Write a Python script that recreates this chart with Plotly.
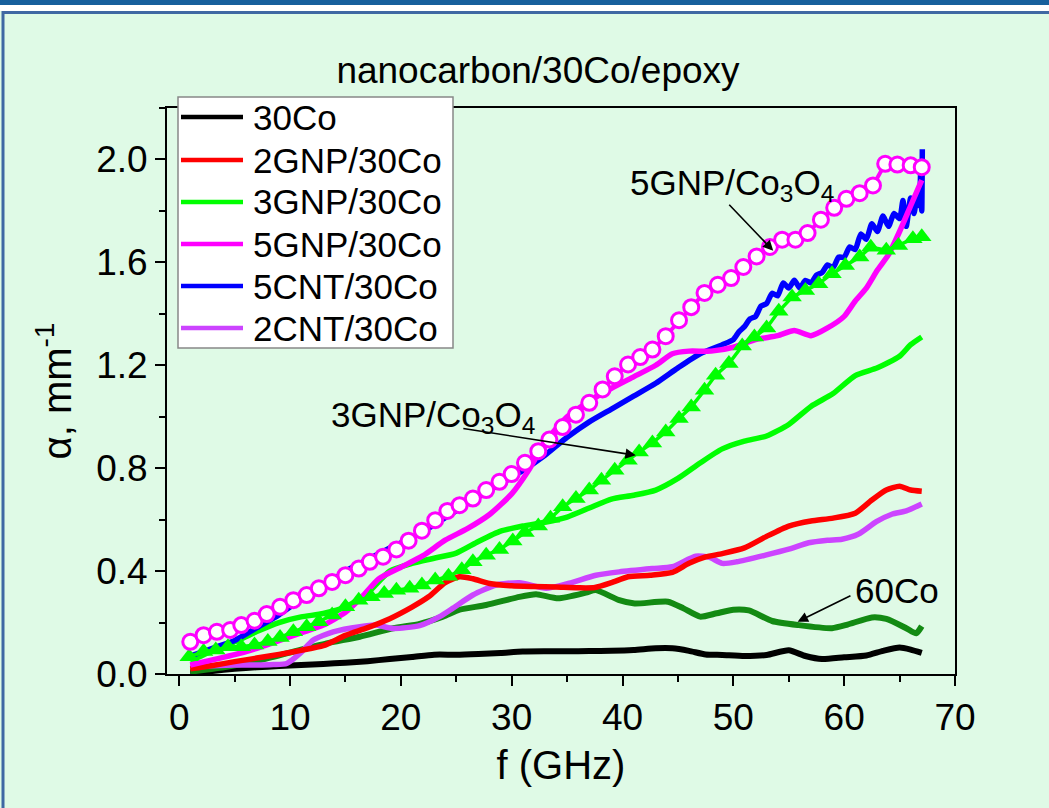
import plotly.graph_objects as go

# ---------------- data ----------------
co30_x = [1, 3, 5, 7, 9, 11, 13, 15, 17, 19, 21, 23, 25, 27, 29, 31, 33, 35, 37, 39, 41, 43, 44.5, 46, 47.5,
          49, 51, 53, 55, 56.5, 58, 60, 62, 63.5, 65, 66, 67]
co30_y = [0.003, 0.012, 0.02, 0.026, 0.031, 0.035, 0.039, 0.044, 0.05, 0.058, 0.066, 0.075, 0.075, 0.078, 0.082,
          0.087, 0.088, 0.088, 0.089, 0.09, 0.093, 0.1, 0.1, 0.09, 0.076, 0.074, 0.07, 0.074, 0.092, 0.07, 0.058,
          0.065, 0.072, 0.09, 0.103, 0.095, 0.082]

gnp2_x = [1, 3, 5, 7, 9, 11, 13, 15, 17, 19, 21, 22.5, 24, 25.3, 26.5, 28, 30, 32, 34, 36, 37.5, 39, 40.5, 42.5,
          44.5, 46, 47.5, 49, 51, 53, 55, 57, 59, 61, 62.5, 63.8, 65, 66, 67]
gnp2_y = [0.02, 0.033, 0.048, 0.062, 0.076, 0.092, 0.11, 0.15, 0.18, 0.215, 0.26, 0.3, 0.355, 0.378, 0.37, 0.352,
          0.343, 0.34, 0.338, 0.335, 0.336, 0.355, 0.378, 0.384, 0.395, 0.43, 0.455, 0.468, 0.49, 0.535, 0.575,
          0.595, 0.606, 0.625, 0.676, 0.715, 0.73, 0.715, 0.71]

gnp3_x = [1, 3, 5, 7, 9, 11, 13, 15, 17, 19, 21, 23, 25, 27, 29, 31, 33, 35, 37, 39, 41, 43, 45, 47, 49, 51, 53,
          55, 57, 59, 61, 63, 65, 66, 67]
gnp3_y = [0.05, 0.09, 0.125, 0.165, 0.2, 0.222, 0.235, 0.26, 0.315, 0.4, 0.43, 0.45, 0.47, 0.515, 0.555, 0.575,
          0.59, 0.61, 0.645, 0.68, 0.695, 0.715, 0.76, 0.82, 0.875, 0.905, 0.925, 0.97, 1.04, 1.09, 1.16, 1.19,
          1.235, 1.28, 1.31]

gnp5_x = [1, 3, 5, 7, 9, 11, 13, 15, 16.5, 18, 20, 22, 24, 26, 28, 30, 31.5, 33, 35, 37, 39, 41, 43, 44.5, 46,
          48, 50, 52, 54, 55.5, 57, 58.5, 60, 61, 62, 63, 64, 65, 66, 67]
gnp5_y = [0.035, 0.055, 0.075, 0.1, 0.13, 0.16, 0.19, 0.24, 0.3, 0.37, 0.415, 0.46, 0.52, 0.565, 0.62, 0.7, 0.79,
          0.9, 1.0, 1.06, 1.11, 1.155, 1.2, 1.245, 1.255, 1.255, 1.27, 1.3, 1.315, 1.335, 1.315, 1.345, 1.39,
          1.45, 1.5, 1.57, 1.63, 1.72, 1.82, 1.92]

cnt5_x = [1, 3, 5, 7, 9, 11, 13, 15, 17, 19, 21, 23, 25, 27, 29, 31, 33, 35, 37, 39, 41, 43, 45, 47, 49,
          50, 50.5, 51, 51.5, 52, 52.5, 53, 53.5, 54, 54.5, 55, 55.5, 56, 56.5, 57, 57.5, 58, 58.5, 59, 59.5,
          60, 60.5, 61, 61.5, 62, 62.5, 63, 63.5, 64, 64.5, 65, 65.3, 65.6, 66, 66.3, 66.6, 66.8, 66.9, 67.0, 67.05]
cnt5_y = [0.07, 0.1, 0.13, 0.18, 0.23, 0.29, 0.34, 0.4, 0.445, 0.49, 0.53, 0.58, 0.635, 0.69, 0.74, 0.79, 0.85,
          0.92, 0.98, 1.03, 1.08, 1.13, 1.19, 1.245, 1.28,
          1.30, 1.33, 1.35, 1.38, 1.39, 1.43, 1.44, 1.48, 1.47, 1.52, 1.50, 1.53, 1.50, 1.53, 1.52, 1.55, 1.56,
          1.59, 1.58, 1.62, 1.62, 1.66, 1.65, 1.71, 1.69, 1.75, 1.72, 1.78, 1.74, 1.79, 1.77, 1.84, 1.74, 1.85,
          1.79, 1.87, 1.82, 1.95, 1.80, 2.04]

cnt2_x = [1, 3, 5, 7, 8.5, 9.7, 10.9, 12.1, 13.9, 16.3, 17.8, 19.3, 21.7, 23.5, 24.7, 26.5, 28.6, 30.7, 33.1,
          35.2, 37.6, 39.7, 42.7, 44.5, 46.6, 47.8, 49, 50.3, 52.9, 55, 56.8, 58.5, 59.8, 61.3, 62.9, 64.3, 65.6, 67]
cnt2_y = [0.028, 0.032, 0.035, 0.035, 0.037, 0.041, 0.08, 0.132, 0.164, 0.184, 0.19, 0.177, 0.188, 0.223, 0.256,
          0.307, 0.346, 0.355, 0.333, 0.353, 0.384, 0.397, 0.41, 0.417, 0.458, 0.454, 0.43, 0.436, 0.462, 0.485,
          0.51, 0.52, 0.524, 0.544, 0.592, 0.621, 0.634, 0.661]

co60_x = [1, 4.3, 7.3, 10.3, 13.3, 16.3, 19.3, 21.7, 23.8, 25.3, 27.7, 30.7, 32.2, 34.2, 36.7, 37.6, 39.7, 41.1,
          44.1, 45.5, 47, 48.5, 50, 51.4, 53.5, 55.9, 58.9, 60.3, 62.5, 63.8, 65.6, 66.5, 67]
co60_y = [0.009, 0.028, 0.054, 0.087, 0.119, 0.145, 0.178, 0.195, 0.223, 0.25, 0.268, 0.3, 0.31, 0.294, 0.316,
          0.326, 0.287, 0.274, 0.281, 0.255, 0.223, 0.236, 0.25, 0.247, 0.206, 0.19, 0.178, 0.192, 0.22, 0.214,
          0.178, 0.158, 0.186]

gnp3co_x = [0.9, 2.2, 3.3, 4.4, 5.6, 6.8, 8.0, 9.1, 10.3, 11.5, 12.6, 13.8, 15.0, 16.2, 17.3, 18.5, 19.6, 20.8,
            21.9, 23.1, 24.3, 25.5, 26.5, 27.7, 28.9, 30.1, 31.2, 32.4, 33.5, 34.6, 35.8, 37.0, 38.1, 39.3, 40.5,
            41.5, 42.7, 43.9, 45.1, 46.2, 47.4, 48.4, 49.6, 50.8, 51.9, 53.0, 54.1, 55.3, 56.5, 57.7, 58.9, 60.1,
            61.4, 62.4, 63.8, 64.9, 66.2]
gnp3co_y = [0.067, 0.087, 0.093, 0.106, 0.106, 0.113, 0.126, 0.142, 0.164, 0.184, 0.203, 0.229, 0.261, 0.287,
            0.3, 0.313, 0.326, 0.333, 0.346, 0.365, 0.38, 0.405, 0.436, 0.462, 0.484, 0.517, 0.55, 0.575, 0.605,
            0.65, 0.682, 0.715, 0.753, 0.792, 0.831, 0.863, 0.898, 0.941, 0.993, 1.038, 1.103, 1.161, 1.207,
            1.275, 1.31, 1.345, 1.41, 1.465, 1.491, 1.517, 1.556, 1.588, 1.621, 1.659, 1.647, 1.666, 1.692]

gnp5co_x = [1.0, 2.2, 3.4, 4.6, 5.6, 6.8, 7.9, 9.1, 10.3, 11.5, 12.6, 13.8, 15.0, 16.2, 17.2, 18.4, 19.6, 20.7,
            21.9, 23.1, 24.2, 25.3, 26.5, 27.7, 28.9, 30.0, 31.2, 32.4, 33.4, 34.6, 35.8, 37.0, 38.2, 39.3, 40.5,
            41.6, 42.7, 43.9, 45.1, 46.2, 47.4, 48.6, 49.8, 50.9, 52.1, 53.3, 54.4, 55.6, 56.7, 57.9, 59.1, 60.2,
            61.4, 62.6, 63.7, 64.8, 66.0]
gnp5co_y = [0.125, 0.151, 0.164, 0.171, 0.19, 0.207, 0.233, 0.261, 0.287, 0.307, 0.333, 0.358, 0.384, 0.41,
            0.436, 0.456, 0.484, 0.518, 0.557, 0.598, 0.634, 0.656, 0.682, 0.715, 0.747, 0.777, 0.821, 0.866,
            0.911, 0.96, 1.008, 1.054, 1.106, 1.157, 1.203, 1.232, 1.261, 1.313, 1.375, 1.426, 1.481, 1.513,
            1.539, 1.582, 1.623, 1.66, 1.688, 1.688, 1.714, 1.766, 1.812, 1.847, 1.869, 1.899, 1.983, 1.98, 1.977]

x_ticks = [0, 10, 20, 30, 40, 50, 60, 70]
y_ticks = [0.0, 0.4, 0.8, 1.2, 1.6, 2.0]
legend_names = ["30Co", "2GNP/30Co", "3GNP/30Co", "5GNP/30Co", "5CNT/30Co", "2CNT/30Co"]
legend_colors = ["#000000", "#ff0000", "#00ff00", "#ff00ff", "#0000ff", "#cc44ff"]

# ---------------- geometry helpers ----------------
FONT = "Arial, Liberation Sans, sans-serif"
L, R, T, B = 167, 94, 108, 134
W, H = 1049, 808
pw, ph = W - L - R, H - T - B


def px(xp):
    return (xp - L) / pw


def py(yp):
    return (H - B - yp) / ph


# ---------------- figure ----------------
fig = go.Figure()
series = {
    "30Co": (co30_x, co30_y),
    "2GNP/30Co": (gnp2_x, gnp2_y),
    "3GNP/30Co": (gnp3_x, gnp3_y),
    "5GNP/30Co": (gnp5_x, gnp5_y),
    "5CNT/30Co": (cnt5_x, cnt5_y),
    "2CNT/30Co": (cnt2_x, cnt2_y),
}
colors = dict(zip(legend_names, legend_colors))


def add_line(name, width=5.5):
    xs, ys = series[name]
    fig.add_trace(go.Scatter(x=xs, y=ys, mode="lines", name=name, showlegend=False,
                             line=dict(color=colors[name], width=width, shape="spline", smoothing=0.6)))


add_line("30Co", 6)
fig.add_trace(go.Scatter(x=co60_x, y=co60_y, mode="lines", name="60Co", showlegend=False,
                         line=dict(color="#138a13", width=6, shape="spline", smoothing=0.6)))
for nm in ["2CNT/30Co", "2GNP/30Co", "3GNP/30Co", "5CNT/30Co", "5GNP/30Co"]:
    add_line(nm)

fig.add_trace(go.Scatter(x=gnp3co_x + [67], y=gnp3co_y + [1.70], mode="lines+markers", showlegend=False,
                         name="3GNP/Co3O4",
                         line=dict(color="#00ff00", width=3.5),
                         marker=dict(symbol="triangle-up", size=17, color="#00ff00", line=dict(width=0))))
fig.add_trace(go.Scatter(x=gnp5co_x + [67], y=gnp5co_y + [1.97], mode="lines+markers", showlegend=False,
                         name="5GNP/Co3O4",
                         line=dict(color="#ff00ff", width=4),
                         marker=dict(symbol="circle", size=15, color="white",
                                     line=dict(color="#ff00ff", width=3))))

# ---------------- annotations ----------------
ann_font = dict(family=FONT, size=35, color="black")
annotations = [
    dict(x=53.6, y=1.645, ax=49.5, ay=1.83, xref="x", yref="y", axref="x", ayref="y", text="",
         showarrow=True, arrowhead=2, arrowsize=1.3, arrowwidth=1.6, arrowcolor="black"),
    dict(x=41.2, y=0.85, ax=25.5, ay=0.955, xref="x", yref="y", axref="x", ayref="y", text="",
         showarrow=True, arrowhead=2, arrowsize=1.3, arrowwidth=1.6, arrowcolor="black"),
    dict(x=55.8, y=0.203, ax=60.7, ay=0.307, xref="x", yref="y", axref="x", ayref="y", text="",
         showarrow=True, arrowhead=2, arrowsize=1.3, arrowwidth=1.6, arrowcolor="black"),
    dict(x=40.5, y=1.9, xref="x", yref="y", text="5GNP/Co<sub>3</sub>O<sub>4</sub>", showarrow=False,
         xanchor="left", yanchor="middle", font=ann_font),
    dict(x=13.5, y=1.0, xref="x", yref="y", text="3GNP/Co<sub>3</sub>O<sub>4</sub>", showarrow=False,
         xanchor="left", yanchor="middle", font=ann_font),
    dict(x=60.8, y=0.326, xref="x", yref="y", text="60Co", showarrow=False,
         xanchor="left", yanchor="middle", font=ann_font),
]

# legend (drawn as a box with sample lines and labels)
leg_rows = [117, 160, 202, 244, 286, 328]
shapes = [
    dict(type="rect", xref="paper", yref="paper", x0=px(-5), x1=px(W + 5), y0=py(5), y1=py(-5),
         fillcolor="#17609c", line=dict(width=0), layer="below"),
    dict(type="rect", xref="paper", yref="paper", x0=px(-5), x1=px(W + 5), y0=py(11), y1=py(5),
         fillcolor="white", line=dict(width=0), layer="below"),
    dict(type="rect", xref="paper", yref="paper", x0=px(3), x1=px(W + 20), y0=py(H + 20), y1=py(12.5),
         fillcolor="rgba(0,0,0,0)", line=dict(color="#3f68a3", width=3), layer="below"),
    dict(type="rect", xref="paper", yref="paper", x0=px(178), x1=px(453), y0=py(348), y1=py(97),
         fillcolor="white", line=dict(color="#888888", width=1.5), layer="above"),
]
for name, col, yr in zip(legend_names, legend_colors, leg_rows):
    shapes.append(dict(type="line", xref="paper", yref="paper", x0=px(181), x1=px(243), y0=py(yr), y1=py(yr),
                       line=dict(color=col, width=4.5), layer="above"))
    annotations.append(dict(x=px(251), y=py(yr), xref="paper", yref="paper", text=name, showarrow=False,
                            xanchor="left", yanchor="middle", font=dict(family=FONT, size=35, color="black")))

fig.update_layout(
    width=W, height=H, autosize=False,
    margin=dict(l=L, r=R, t=T, b=B),
    paper_bgcolor="#dffae6", plot_bgcolor="#dffae6",
    font=dict(family=FONT, color="black"),
    title=dict(text="nanocarbon/30Co/epoxy", x=538 / W, xanchor="center", y=1 - 70 / H, yanchor="middle",
               font=dict(family=FONT, size=37, color="black")),
    showlegend=False,
    annotations=annotations,
    shapes=shapes,
    xaxis=dict(range=[-1.1, 70], tickmode="array", tickvals=x_ticks, ticks="outside", ticklen=10,
               tickwidth=2, tickcolor="black", showline=True, linecolor="black", linewidth=2, mirror=True,
               showgrid=False, zeroline=False, tickfont=dict(family=FONT, size=37),
               minor=dict(dtick=5, tick0=0, ticks="outside", ticklen=6, tickwidth=2, tickcolor="black"),
               title=dict(text="f (GHz)", font=dict(family=FONT, size=40), standoff=14)),
    yaxis=dict(range=[0, 2.2], tickmode="array", tickvals=y_ticks, ticktext=[f"{v:.1f}" for v in y_ticks],
               ticks="outside", ticklen=10, tickwidth=2, tickcolor="black", showline=True, linecolor="black",
               linewidth=2, mirror=True, showgrid=False, zeroline=False, tickfont=dict(family=FONT, size=37),
               minor=dict(dtick=0.2, tick0=0, ticks="outside", ticklen=6, tickwidth=2, tickcolor="black"),
               title=dict(text="α, mm<sup>-1</sup>", font=dict(family=FONT, size=40), standoff=12)),
)

fig.write_html("out.html")
